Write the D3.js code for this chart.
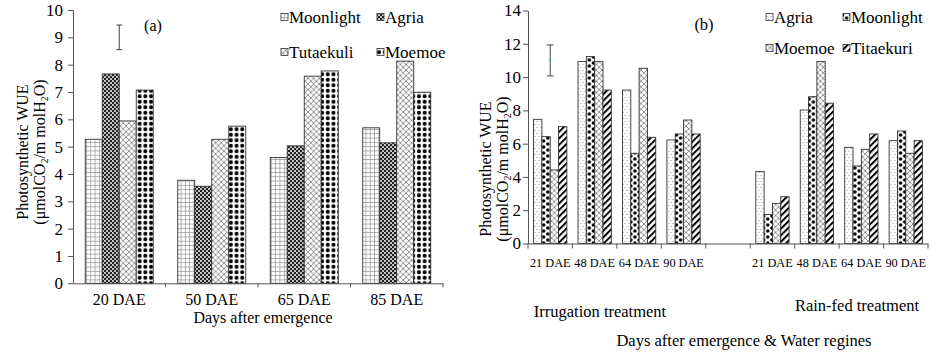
<!DOCTYPE html>
<html>
<head>
<meta charset="utf-8">
<script src="https://cdn.jsdelivr.net/npm/d3@7"></script>
<style>
  body { margin: 0; background: #fff; }
  svg text { font-family: "Liberation Serif", "Times New Roman", serif; fill: #000; }
</style>
</head>
<body>
<svg id="chart" width="930" height="356"></svg>
<script>
// ---- panel (a) data ----
var daysA       = ['20 DAE', '50 DAE', '65 DAE', '85 DAE']
var varietiesA  = ['Moonlight', 'Agria', 'Tutaekuli', 'Moemoe']
var moonlightA  = [5.27, 3.77, 4.60, 5.69]
var agriaA      = [7.66, 3.55, 5.03, 5.14]
var tutaekuliA  = [5.94, 5.27, 7.58, 8.13]
var moemoeA     = [7.07, 5.75, 7.77, 6.99]
var errorA      = [9.0, 0.45]   // centre, half length
var yTicksA     = [0, 1, 2, 3, 4, 5, 6, 7, 8, 9, 10]

// ---- panel (b) data ----
var daysB          = ['21 DAE', '48 DAE', '64 DAE', '90 DAE']
var varietiesB     = ['Agria', 'Moonlight', 'Moemoe', 'Titaekuri']
var agriaIrr       = [7.46, 10.93, 9.22, 6.22]
var moonlightIrr   = [6.42, 11.23, 5.42, 6.58]
var moemoeIrr      = [4.42, 10.93, 10.53, 7.42]
var titaekuriIrr   = [7.02, 9.22, 6.38, 6.58]
var agriaRain      = [4.32, 8.02, 5.78, 6.18]
var moonlightRain  = [1.75, 8.82, 4.66, 6.76]
var moemoeRain     = [2.41, 10.93, 5.66, 5.42]
var titaekuriRain  = [2.81, 8.43, 6.58, 6.18]
var errorB         = [11.0, 0.93]
var yTicksB        = [0, 2, 4, 6, 8, 10, 12, 14]

var svg = d3.select('#chart')
var defs = svg.append('defs')
var axisColor = '#555'
var barStroke = '#333'

// ---- fill patterns ----
function pattern(id, w, h) {
  var p = defs.append('pattern').attr('id', id)
    .attr('patternUnits', 'userSpaceOnUse').attr('width', w).attr('height', h)
  p.append('rect').attr('width', w).attr('height', h).attr('fill', '#fff')
  return p
}
var pg = pattern('gridA', 4.3, 4.3)
pg.append('path').attr('d', 'M0,0.4H4.3M0.4,0V4.3').attr('stroke', '#999').attr('stroke-width', 0.8)

var ps = pattern('sphereA', 4, 4)
ps.select('rect').attr('fill', '#222')
ps.append('circle').attr('cx', 1).attr('cy', 1).attr('r', 1.05).attr('fill', '#d8d8d8')
ps.append('circle').attr('cx', 3).attr('cy', 3).attr('r', 1.05).attr('fill', '#d8d8d8')

var ph = pattern('hatch', 5.6, 5.6)
ph.append('path').attr('d', 'M0,0L5.6,5.6M5.6,0L0,5.6').attr('stroke', '#777').attr('stroke-width', 0.8)

var pd = pattern('dotsA', 5.7, 5.5)
pd.append('circle').attr('cx', 2.85).attr('cy', 2.75).attr('r', 2).attr('fill', '#000')

var pf = pattern('fineDots', 4, 6)
pf.append('circle').attr('cx', 1).attr('cy', 1.5).attr('r', 0.55).attr('fill', '#888')
pf.append('circle').attr('cx', 3).attr('cy', 4.5).attr('r', 0.55).attr('fill', '#888')

var pb = pattern('dotsB', 8.3, 6)
pb.append('circle').attr('cx', 4.15).attr('cy', 3).attr('r', 1.8).attr('fill', '#000')
;[[0, 0], [8.3, 0], [0, 6], [8.3, 6]].forEach(function(c) {
  pb.append('circle').attr('cx', c[0]).attr('cy', c[1]).attr('r', 1.8).attr('fill', '#000')
})

var pt = defs.append('pattern').attr('id', 'stripes')
  .attr('patternUnits', 'userSpaceOnUse').attr('width', 4.6).attr('height', 4.6)
  .attr('patternTransform', 'rotate(45)')
pt.append('rect').attr('width', 4.6).attr('height', 4.6).attr('fill', '#fff')
pt.append('rect').attr('width', 2).attr('height', 4.6).attr('fill', '#000')

// ---- helpers ----
function styleAxis(g) {
  g.selectAll('path, line').attr('stroke', axisColor)
  g.attr('font-family', null)
}

function yTitle(cx, cy) {
  var g = svg.append('g').attr('font-size', 16)
  g.append('text').attr('transform', 'translate(' + (cx - 8.5) + ',' + cy + ') rotate(-90)')
    .attr('text-anchor', 'middle').attr('dy', '0.35em').text('Photosynthetic WUE')
  var t = g.append('text').attr('transform', 'translate(' + (cx + 8.5) + ',' + cy + ') rotate(-90)')
    .attr('text-anchor', 'middle').attr('dy', '0.35em')
  t.append('tspan').text('(μmolCO')
  t.append('tspan').attr('dy', 3).attr('font-size', 10).text('2')
  t.append('tspan').attr('dy', -3).text('/m molH')
  t.append('tspan').attr('dy', 3).attr('font-size', 10).text('2')
  t.append('tspan').attr('dy', -3).text('O)')
}

function legend(names, fills, x0, x1, rows) {
  names.forEach(function(n, i) {
    var lx = i % 2 === 0 ? x0 : x1
    var ly = rows[Math.floor(i / 2)]
    svg.append('rect').attr('x', lx).attr('y', ly - 3.5).attr('width', 7).attr('height', 7)
      .attr('fill', fills[i]).attr('stroke', barStroke).attr('stroke-width', 0.8)
    svg.append('text').attr('x', lx + 8).attr('y', ly).attr('dy', '0.35em')
      .attr('font-size', 17).text(n)
  })
}

function errorBar(x, y, vals, cap) {
  var g = svg.append('g').attr('stroke', '#444').attr('stroke-width', 1)
  g.append('line').attr('x1', x).attr('x2', x).attr('y1', y(vals[0] - vals[1])).attr('y2', y(vals[0] + vals[1]))
  g.append('line').attr('x1', x - cap).attr('x2', x + cap).attr('y1', y(vals[0] - vals[1])).attr('y2', y(vals[0] - vals[1]))
  g.append('line').attr('x1', x - cap).attr('x2', x + cap).attr('y1', y(vals[0] + vals[1])).attr('y2', y(vals[0] + vals[1]))
  return g
}

// ================= panel (a) =================
var xA  = d3.scaleBand().domain(daysA).range([73, 443])
var xAi = d3.scaleBand().domain(varietiesA).range([0, xA.bandwidth()]).paddingOuter(0.72)
var yA  = d3.scaleLinear().domain([0, 10]).range([283.3, 10])
var seriesA = [moonlightA, agriaA, tutaekuliA, moemoeA]
var fillsA  = ['url(#gridA)', 'url(#sphereA)', 'url(#hatch)', 'url(#dotsA)']

var barsA = svg.append('g')
daysA.forEach(function(day, i) {
  varietiesA.forEach(function(v, j) {
    var val = seriesA[j][i]
    barsA.append('rect')
      .attr('x', xA(day) + xAi(v)).attr('y', yA(val))
      .attr('width', xAi.bandwidth()).attr('height', yA(0) - yA(val))
      .attr('fill', fillsA[j]).attr('stroke', barStroke).attr('stroke-width', 0.9)
  })
})

var gyA = svg.append('g').attr('transform', 'translate(73,0)')
  .call(d3.axisLeft(yA).tickValues(yTicksA).tickSize(5).tickPadding(5).tickSizeOuter(0))
  .attr('font-size', 17)
styleAxis(gyA)

var gxA = svg.append('g').attr('transform', 'translate(0,' + yA(0) + ')')
  .call(d3.axisBottom(xA).tickSize(0).tickPadding(10.5).tickSizeOuter(0))
  .attr('font-size', 16)
styleAxis(gxA)
daysA.map(function(d) { return xA(d) }).concat([xA.range()[1]]).slice(1).forEach(function(bx) {
  gxA.append('line').attr('x1', bx).attr('x2', bx).attr('y1', 0).attr('y2', 4).attr('stroke', axisColor)
})

svg.append('text').attr('x', 263).attr('y', 323).attr('text-anchor', 'middle')
  .attr('font-size', 16).text('Days after emergence')
svg.append('text').attr('x', 153).attr('y', 31).attr('text-anchor', 'middle')
  .attr('font-size', 16).text('(a)')
yTitle(31, 152)
legend(varietiesA, fillsA, 281, 377, [17, 52])
errorBar(xA(daysA[0]) + xA.bandwidth() / 2, yA, errorA, 3)

// ================= panel (b) =================
var slotsB = daysB.map(function(d) { return 'Irr|' + d })
  .concat(['gap'])
  .concat(daysB.map(function(d) { return 'Rain|' + d }))
var xB  = d3.scaleBand().domain(slotsB).range([528, 928])
var xBi = d3.scaleBand().domain(varietiesB).range([0, xB.bandwidth()]).paddingOuter(0.67)
var yB  = d3.scaleLinear().domain([0, 14]).range([243.5, 10.5])
var irrB   = [agriaIrr, moonlightIrr, moemoeIrr, titaekuriIrr]
var rainB  = [agriaRain, moonlightRain, moemoeRain, titaekuriRain]
var fillsB = ['url(#fineDots)', 'url(#dotsB)', 'url(#hatch)', 'url(#stripes)']

var barsB = svg.append('g')
;[['Irr|', irrB], ['Rain|', rainB]].forEach(function(reg) {
  daysB.forEach(function(day, i) {
    varietiesB.forEach(function(v, j) {
      var val = reg[1][j][i]
      barsB.append('rect')
        .attr('x', xB(reg[0] + day) + xBi(v)).attr('y', yB(val))
        .attr('width', xBi.bandwidth()).attr('height', yB(0) - yB(val))
        .attr('fill', fillsB[j]).attr('stroke', barStroke).attr('stroke-width', 0.9)
    })
  })
})

var gyB = svg.append('g').attr('transform', 'translate(528,0)')
  .call(d3.axisLeft(yB).tickValues(yTicksB).tickSize(5).tickPadding(2).tickSizeOuter(0))
  .attr('font-size', 17)
styleAxis(gyB)

var gxB = svg.append('g').attr('transform', 'translate(0,' + yB(0) + ')')
  .call(d3.axisBottom(xB).tickSize(0).tickPadding(15).tickSizeOuter(0)
    .tickFormat(function(d) { return d === 'gap' ? '' : d.split('|')[1] }))
  .attr('font-size', 12.3)
styleAxis(gxB)
slotsB.map(function(d) { return xB(d) }).concat([xB.range()[1]]).forEach(function(bx) {
  gxB.append('line').attr('x1', bx).attr('x2', bx).attr('y1', 0).attr('y2', 5).attr('stroke', axisColor)
})

svg.append('text').attr('x', 600).attr('y', 317).attr('text-anchor', 'middle')
  .attr('font-size', 16.5).text('Irrugation treatment')
svg.append('text').attr('x', 857).attr('y', 311).attr('text-anchor', 'middle')
  .attr('font-size', 16.5).text('Rain-fed treatment')
svg.append('text').attr('x', 744).attr('y', 346).attr('text-anchor', 'middle')
  .attr('font-size', 16.5).text('Days after emergence & Water regines')
svg.append('text').attr('x', 704).attr('y', 30).attr('text-anchor', 'middle')
  .attr('font-size', 16.5).text('(b)')
yTitle(494, 169)
legend(varietiesB, fillsB, 766, 843, [17, 48])
var xe = xB(slotsB[0]) + xB.bandwidth() / 2
errorBar(xe, yB, errorB, 3.5)
svg.append('circle').attr('cx', xe).attr('cy', yB(errorB[0])).attr('r', 1).attr('fill', '#3a9ad9')
</script>
</body>
</html>
